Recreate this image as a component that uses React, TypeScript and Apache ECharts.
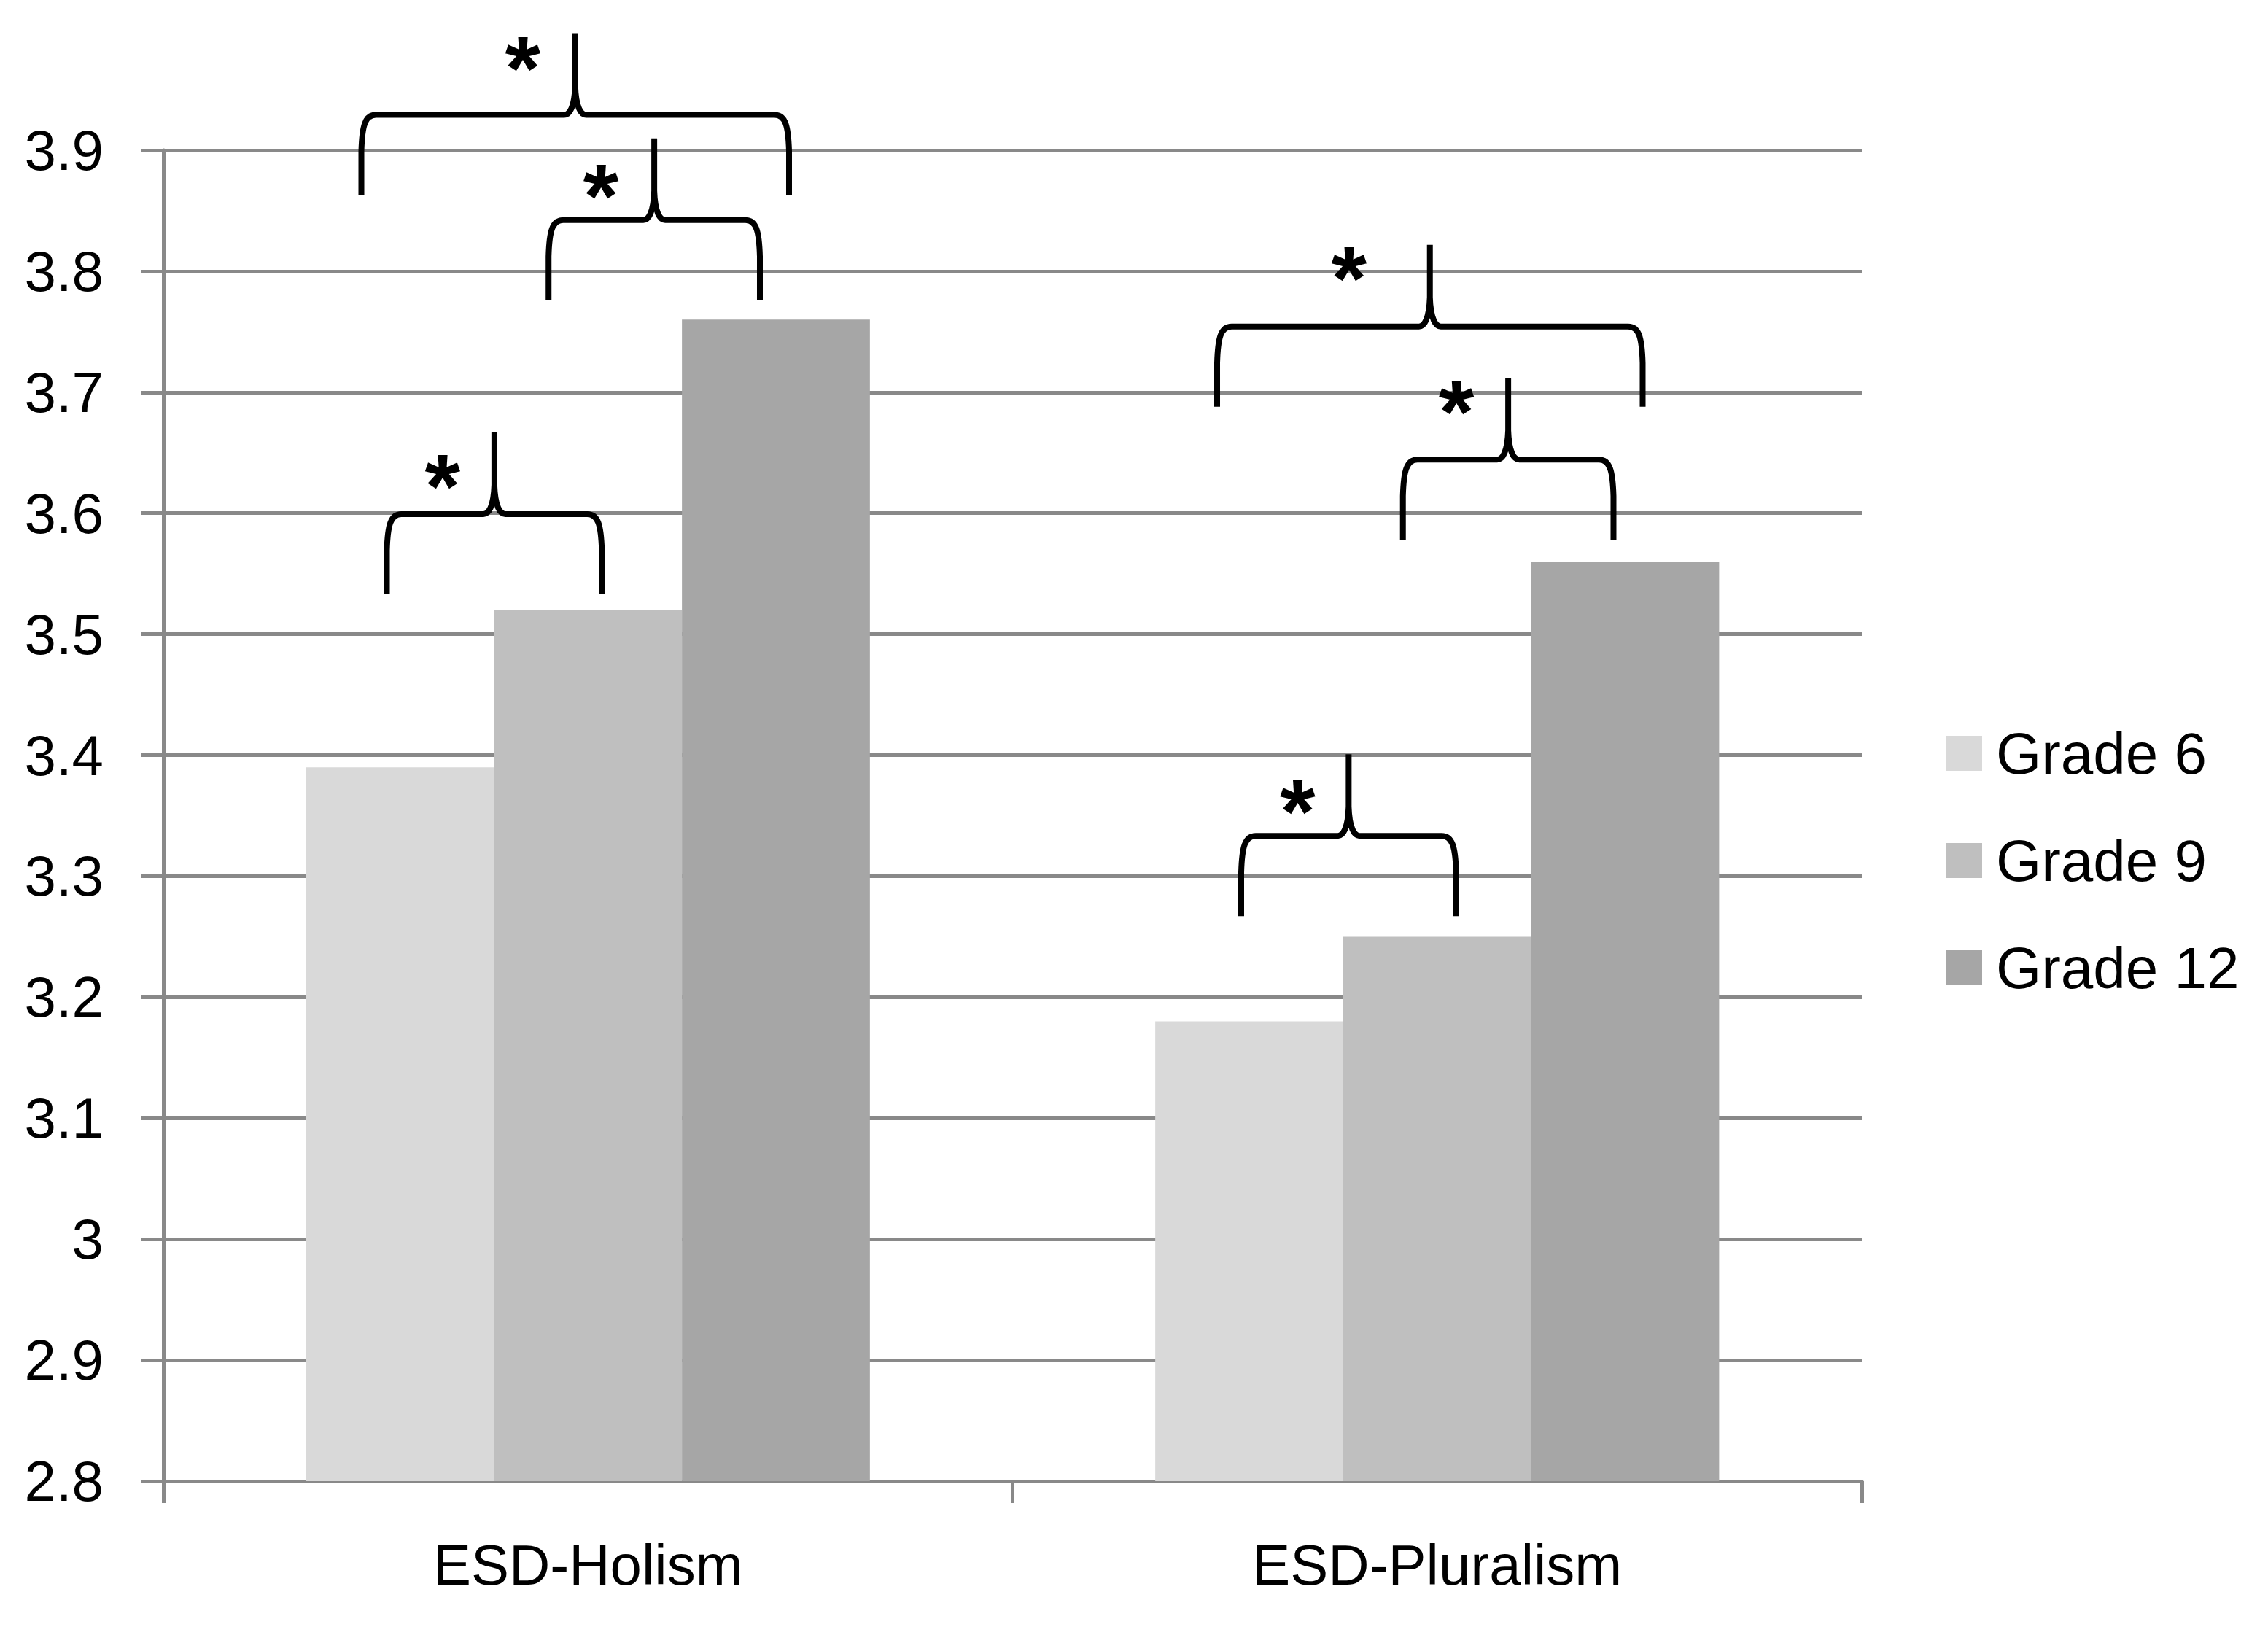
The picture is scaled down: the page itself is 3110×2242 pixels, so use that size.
import React, { useEffect, useRef } from "react";
import * as echarts from "echarts";

// ---- data ----
const CATEGORIES = ["ESD-Holism", "ESD-Pluralism"];
const SERIES_NAMES = ["Grade 6", "Grade 9", "Grade 12"];
const GRADE6 = [3.39, 3.18];
const GRADE9 = [3.52, 3.25];
const GRADE12 = [3.76, 3.56];
const Y_MIN = 2.8;
const Y_MAX = 3.9;
const Y_STEP = 0.1;

// significance braces: category index, compared grades (index in SERIES_NAMES), value where legs end
const BRACE_CATEGORY = [0, 0, 0, 1, 1, 1];
const BRACE_FROM = [0, 1, 0, 0, 1, 0];
const BRACE_TO = [2, 2, 1, 2, 2, 1];
const BRACE_BASE = [3.863, 3.776, 3.533, 3.688, 3.578, 3.267];
const BRACE_LABEL = ["*", "*", "*", "*", "*", "*"];

// ---- layout / style ----
const FONT = "'Liberation Sans', Arial, sans-serif";
const COLORS = ["#D9D9D9", "#BFBFBF", "#A6A6A6"];
const GRID_COLOR = "#898989";
const CAT_GAP = 0.336;
const LEG_H = 110;
const TIP_H = 112;
const BRACE_LEG_OFFSET = [[-53, 18], [-54, -22], [-18, 19], [-44, 24], [-47, -16], [-11, 26]];
const BRACE_STAR_OFFSET = [[-72, 37], [-73, 68], [-71, 62], [-111, 35], [-71, 35], [-70, 67]];
const STAR_SIZE = 125;

function bracePath(L: number, R: number, B: number, Y: number, T: number) {
  const M = (L + R) / 2;
  return (
    `M${L},${B} L${L},${Y + 50} C${L + 1},${Y + 15} ${L + 5},${Y} ${L + 20},${Y} ` +
    `L${M - 15},${Y} C${M - 8},${Y} ${M - 1},${Y - 10} ${M},${Y - 40} L${M},${T} ` +
    `M${M},${Y - 40} C${M + 1},${Y - 10} ${M + 8},${Y} ${M + 15},${Y} ` +
    `L${R - 20},${Y} C${R - 5},${Y} ${R - 1},${Y + 15} ${R},${Y + 50} L${R},${B}`
  );
}

export default function App() {
  const ref = useRef<HTMLDivElement>(null);
  useEffect(() => {
    document.body.style.margin = "0";
    const chart = echarts.init(ref.current!, null, { renderer: "svg" });
    const lineStyle = { color: GRID_COLOR, width: 5 };
    const values = [GRADE6, GRADE9, GRADE12];
    const barSeries = SERIES_NAMES.map((name, i) => ({
      name,
      type: "bar",
      data: values[i],
      barGap: "0%",
      barCategoryGap: CAT_GAP * 100 + "%",
      itemStyle: { color: COLORS[i] },
      emphasis: { disabled: true },
    }));
    const braceSeries = {
      name: "significance",
      type: "custom",
      clip: false,
      silent: true,
      z: 10,
      data: BRACE_CATEGORY.map((c, i) => [c, BRACE_BASE[i]]),
      renderItem: (params: any, api: any) => {
        const i = params.dataIndex;
        const cat = api.value(0);
        const base = api.value(1);
        const p = api.coord([cat, base]);
        const band = api.size([1, 0])[0];
        const bw = (band * (1 - CAT_GAP)) / 3;
        const L = p[0] + (BRACE_FROM[i] - 1) * bw + BRACE_LEG_OFFSET[i][0];
        const R = p[0] + (BRACE_TO[i] - 1) * bw + BRACE_LEG_OFFSET[i][1];
        const B = p[1];
        const Y = B - LEG_H;
        const T = Y - TIP_H;
        const M = (L + R) / 2;
        return {
          type: "group",
          children: [
            {
              type: "path",
              shape: { pathData: bracePath(L, R, B, Y, T) },
              style: { fill: "none", stroke: "#000", lineWidth: 8, lineJoin: "round" },
            },
            {
              type: "text",
              x: M + BRACE_STAR_OFFSET[i][0],
              y: T + BRACE_STAR_OFFSET[i][1] + STAR_SIZE * 0.09,
              style: {
                text: BRACE_LABEL[i],
                fill: "#000",
                fontSize: STAR_SIZE,
                fontWeight: "bold",
                fontFamily: FONT,
                align: "center",
                verticalAlign: "middle",
              },
            },
          ],
        };
      },
    };
    chart.setOption({
      animation: false,
      backgroundColor: "#fff",
      grid: { left: 224, right: 557, top: 206, bottom: 211, containLabel: false },
      legend: {
        data: SERIES_NAMES,
        orient: "vertical",
        left: 2663,
        top: 988,
        itemWidth: 50,
        itemHeight: 48,
        itemGap: 67,
        icon: "rect",
        selectedMode: false,
        textStyle: { fontSize: 80, lineHeight: 80, color: "#000", fontFamily: FONT, padding: [0, 0, 0, 14] },
      },
      xAxis: {
        type: "category",
        data: CATEGORIES,
        axisLine: { show: true, lineStyle },
        axisTick: { show: true, length: 30, lineStyle },
        axisLabel: { fontSize: 78, color: "#000", margin: 76, fontFamily: FONT },
        splitLine: { show: false },
      },
      yAxis: {
        type: "value",
        min: Y_MIN,
        max: Y_MAX,
        interval: Y_STEP,
        axisLine: { show: true, lineStyle },
        axisTick: { show: true, length: 30, lineStyle },
        splitLine: { show: true, lineStyle },
        axisLabel: {
          fontSize: 78,
          color: "#000",
          margin: 82,
          fontFamily: FONT,
          formatter: (v: number) => String(Math.round(v * 10) / 10),
        },
      },
      series: [...barSeries, braceSeries],
    });
    return () => chart.dispose();
  }, []);
  return <div ref={ref} style={{ position: "absolute", left: 0, top: 0, width: 3110, height: 2242 }} />;
}
